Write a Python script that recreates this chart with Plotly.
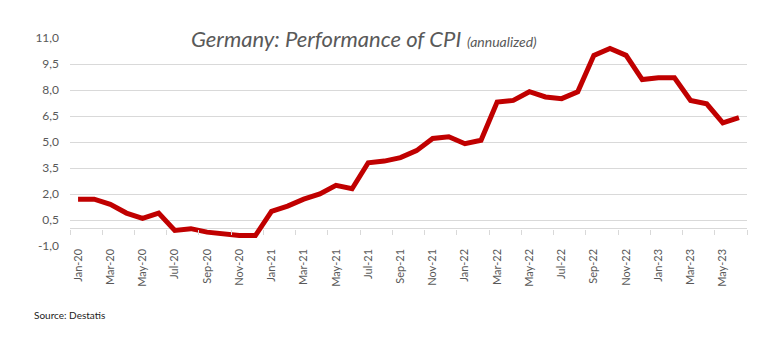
import plotly.graph_objects as go

months = ["Jan-20","Feb-20","Mar-20","Apr-20","May-20","Jun-20","Jul-20","Aug-20","Sep-20","Oct-20","Nov-20","Dec-20",
          "Jan-21","Feb-21","Mar-21","Apr-21","May-21","Jun-21","Jul-21","Aug-21","Sep-21","Oct-21","Nov-21","Dec-21",
          "Jan-22","Feb-22","Mar-22","Apr-22","May-22","Jun-22","Jul-22","Aug-22","Sep-22","Oct-22","Nov-22","Dec-22",
          "Jan-23","Feb-23","Mar-23","Apr-23","May-23","Jun-23"]
cpi = [1.7,1.7,1.4,0.9,0.6,0.9,-0.1,0.0,-0.2,-0.3,-0.4,-0.4,
       1.0,1.3,1.7,2.0,2.5,2.3,3.8,3.9,4.1,4.5,5.2,5.3,
       4.9,5.1,7.3,7.4,7.9,7.6,7.5,7.9,10.0,10.4,10.0,8.6,
       8.7,8.7,7.4,7.2,6.1,6.4]
y_ticks = [-1.0,0.5,2.0,3.5,5.0,6.5,8.0,9.5,11.0]
y_labels = [f"{v:.1f}".replace(".", ",") for v in y_ticks]

GRID = "#d9d9d9"
TXT = "#595959"
FONT = "Lato"

fig = go.Figure()
fig.add_trace(go.Scatter(x=months, y=cpi, mode="lines",
                         line=dict(color="#C00000", width=5, shape="linear"),
                         showlegend=False, hoverinfo="skip"))

ymin, ymax = -1.0, 11.0
fig.update_layout(
    width=771, height=340,
    margin=dict(l=70, r=24, t=38, b=94),
    paper_bgcolor="white", plot_bgcolor="white",
    font=dict(family=FONT, color=TXT, size=12),
    xaxis=dict(type="category", range=[-0.5, len(months) - 0.5],
               anchor="free", position=(0 - ymin) / (ymax - ymin),
               tickmode="linear", tick0=0, dtick=2, tickson="boundaries",
               ticks="outside", ticklen=5, tickcolor=GRID, tickwidth=1,
               tickangle=-90, showgrid=False, zeroline=False, showline=False,
               tickfont=dict(size=11, color=TXT), ticklabelstandoff=17),
    yaxis=dict(range=[ymin, ymax], tickmode="array", tickvals=y_ticks, ticktext=y_labels,
               showgrid=True, gridcolor=GRID, gridwidth=1,
               zeroline=True, zerolinecolor=GRID, zerolinewidth=1, showline=False,
               tickfont=dict(size=12, color=TXT), ticklabelstandoff=10),
)

fig.add_annotation(xref="paper", yref="paper", x=0.434, y=1.0, xanchor="center", yanchor="middle",
                   text="<i>Germany: Performance of CPI</i> <i><span style='font-size:14px'>(annualized)</span></i>",
                   showarrow=False, bgcolor="white", borderpad=2,
                   font=dict(family=FONT, size=22, color=TXT))
fig.add_annotation(xref="paper", yref="paper", x=(32 - 70) / 677, y=-(315 - 246) / 208,
                   xanchor="left", yanchor="middle", text="Source: Destatis", showarrow=False,
                   font=dict(family=FONT, size=10, color="#222222"))

fig.write_html("out.html")
